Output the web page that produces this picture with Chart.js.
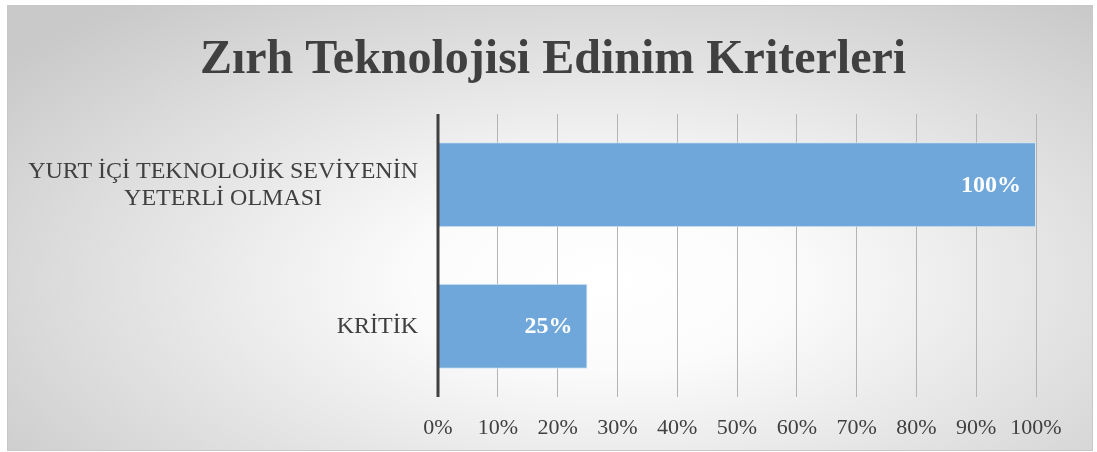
<!DOCTYPE html>
<html lang="tr">
<head>
  <meta charset="UTF-8">
  <title>Zırh Teknolojisi Edinim Kriterleri</title>
  <script src="https://cdn.jsdelivr.net/npm/chart.js"></script>
  <style>
    body {
      margin: 0;
      background-color: white;
    }
    .frame {
      position: absolute;
      left: 7px;
      top: 5px;
      width: 1084px;
      height: 444px;
      border: 1px solid #c8c8c8;
      background: radial-gradient(ellipse 70% 80% at 55% 62%, #ffffff 0%, #fbfbfb 25%, #c9c9c9 100%);
    }
  </style>
</head>
<body>
  <div class="frame">
    <canvas id="chart" width="1084" height="444"></canvas>
  </div>
  <script>
    // chart data
    const title = 'Zırh Teknolojisi Edinim Kriterleri';
    const categories = [['YURT İÇİ TEKNOLOJİK SEVİYENİN', 'YETERLİ OLMASI'], 'KRİTİK'];
    const values = [100, 25];
    const valueLabels = ['100%', '25%'];

    const serif = "'Liberation Serif', 'Times New Roman', serif";
    const textColor = '#404040';

    // title, category labels (right aligned block, lines centred), value labels, axis line on top
    const extras = {
      id: 'extras',
      afterDatasetsDraw(chart) {
        const ctx = chart.ctx;
        const area = chart.chartArea;
        const yScale = chart.scales.y;
        ctx.save();

        ctx.fillStyle = textColor;
        ctx.font = 'bold 48px ' + serif;
        ctx.textAlign = 'center';
        ctx.textBaseline = 'alphabetic';
        ctx.fillText(title, 545, 67);

        ctx.font = '24px ' + serif;
        ctx.textBaseline = 'middle';
        categories.forEach((cat, i) => {
          const lines = Array.isArray(cat) ? cat : [cat];
          const w = Math.max(...lines.map(l => ctx.measureText(l).width));
          const cx = area.left - 20 - w / 2;
          const lh = 27;
          const y0 = yScale.getPixelForTick(i) - (lines.length - 1) * lh / 2;
          lines.forEach((l, j) => ctx.fillText(l, cx, y0 + j * lh));
        });

        ctx.fillStyle = '#ffffff';
        ctx.font = 'bold 24px ' + serif;
        ctx.textAlign = 'right';
        chart.getDatasetMeta(0).data.forEach((bar, i) => {
          ctx.fillText(valueLabels[i], bar.x - 15, bar.y + 1);
        });

        ctx.strokeStyle = '#404040';
        ctx.lineWidth = 3;
        ctx.beginPath();
        ctx.moveTo(area.left, area.top);
        ctx.lineTo(area.left, area.bottom);
        ctx.stroke();
        ctx.restore();
      }
    };

    new Chart(document.getElementById('chart'), {
      type: 'bar',
      data: {
        labels: categories,
        datasets: [{
          data: values,
          backgroundColor: '#6fa7db',
          borderColor: '#d6e6f5',
          borderWidth: 1,
          categoryPercentage: 1,
          barPercentage: 0.6
        }]
      },
      options: {
        indexAxis: 'y',
        responsive: false,
        animation: false,
        layout: { padding: { left: 0, right: 56, top: 108, bottom: 0 } },
        plugins: {
          legend: { display: false },
          tooltip: { enabled: false },
          title: { display: false }
        },
        scales: {
          x: {
            min: 0,
            max: 100,
            ticks: {
              stepSize: 10,
              color: textColor,
              padding: 18,
              font: { family: serif, size: 22 },
              callback: v => v + '%'
            },
            grid: { color: '#b4b4b4', drawTicks: false },
            border: { display: false },
            afterFit: s => { s.height = 53; }
          },
          y: {
            ticks: { display: false },
            grid: { display: false, drawTicks: false },
            border: { display: false },
            afterFit: s => { s.width = 430; }
          }
        }
      },
      plugins: [extras]
    });
  </script>
</body>
</html>
